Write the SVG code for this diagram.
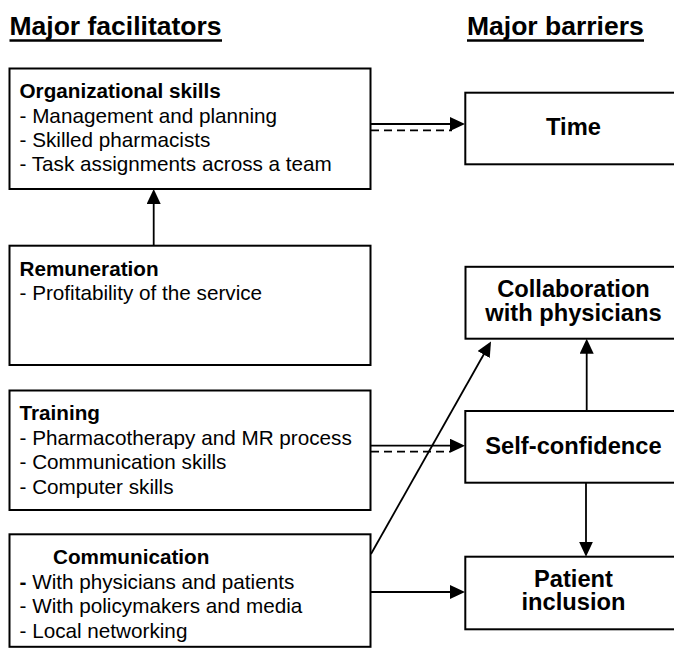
<svg xmlns="http://www.w3.org/2000/svg" width="674" height="648" viewBox="0 0 674 648">
<defs>
<style>
text{font-family:"Liberation Sans",Arial,Helvetica,sans-serif;fill:#000}
.title{font-size:26.5px;font-weight:bold}
.body{font-size:20.7px}
.hd{font-weight:bold}
.big{font-size:23.7px;font-weight:bold;text-anchor:middle}
.box{fill:#fff;stroke:#000;stroke-width:2}
.ln{stroke:#000;stroke-width:1.8;fill:none}
.dash{stroke:#000;stroke-width:1.8;fill:none;stroke-dasharray:8 5}
.ul{stroke:#000;stroke-width:2.4}
</style>
<marker id="ah" markerUnits="userSpaceOnUse" markerWidth="15" markerHeight="14" refX="5" refY="7" orient="auto">
<path d="M0,0 L15,7 L0,14 z" fill="#000"/>
</marker>
</defs>
<rect width="674" height="648" fill="#fff"/>
<g id="titles">
<text class="title" x="9.5" y="35">Major facilitators</text>
<line class="ul" x1="9.5" y1="40.5" x2="222" y2="40.5"/>
<text class="title" x="467" y="35">Major barriers</text>
<line class="ul" x1="467" y1="40.5" x2="644" y2="40.5"/>
</g>
<g id="connectors">
<line class="ln" x1="371" y1="124" x2="455" y2="124" marker-end="url(#ah)"/>
<line class="dash" x1="371" y1="130.3" x2="452" y2="130.3"/>
<line class="ln" x1="153.7" y1="245.7" x2="153.7" y2="199" marker-end="url(#ah)"/>
<line class="ln" x1="371" y1="445.7" x2="455" y2="445.7" marker-end="url(#ah)"/>
<line class="dash" x1="371" y1="451.7" x2="450" y2="451.7"/>
<line class="ln" x1="586.7" y1="411" x2="586.7" y2="348.7" marker-end="url(#ah)"/>
<line class="ln" x1="586" y1="482.7" x2="586" y2="546.7" marker-end="url(#ah)"/>
<line class="ln" x1="371" y1="592" x2="455" y2="592" marker-end="url(#ah)"/>
<line class="ln" x1="371" y1="554" x2="486.1" y2="350.2" marker-end="url(#ah)"/>
</g>
<g id="organizational">
<rect class="box" x="9.5" y="68.5" width="361" height="120.5"/>
<text class="body" x="19.5" y="98"><tspan class="hd">Organizational skills</tspan><tspan x="19.5" y="122.5">- Management and planning</tspan><tspan x="19.5" y="146.5">- Skilled pharmacists</tspan><tspan x="19.5" y="170.5">- Task assignments across a team</tspan></text>
</g>
<g id="remuneration">
<rect class="box" x="9.5" y="245.7" width="361" height="119.3"/>
<text class="body" x="19.5" y="276"><tspan class="hd">Remuneration</tspan><tspan x="19.5" y="299.5">- Profitability of the service</tspan></text>
</g>
<g id="training">
<rect class="box" x="9.5" y="390.5" width="361" height="119.5"/>
<text class="body" x="19.5" y="420"><tspan class="hd">Training</tspan><tspan x="19.5" y="444.5">- Pharmacotherapy and MR process</tspan><tspan x="19.5" y="469">- Communication skills</tspan><tspan x="19.5" y="493.5">- Computer skills</tspan></text>
</g>
<g id="communication">
<rect class="box" x="9.5" y="534.3" width="361" height="112.5"/>
<text class="body" x="53" y="564"><tspan class="hd">Communication</tspan><tspan x="19.5" y="588.5" class="hd">-</tspan><tspan> With physicians and patients</tspan><tspan x="19.5" y="613">- With policymakers and media</tspan><tspan x="19.5" y="637.5">- Local networking</tspan></text>
</g>
<g id="time">
<rect class="box" x="465.3" y="92.7" width="216" height="71.6"/>
<text class="big" x="573.5" y="135">Time</text>
</g>
<g id="collaboration">
<rect class="box" x="465.5" y="266.8" width="216" height="71.9"/>
<text class="big" x="573.5" y="297">Collaboration<tspan x="573.5" y="320.5">with physicians</tspan></text>
</g>
<g id="self-confidence">
<rect class="box" x="465.3" y="411" width="216" height="71.7"/>
<text class="big" x="573.5" y="454">Self-confidence</text>
</g>
<g id="patient-inclusion">
<rect class="box" x="465.3" y="556.7" width="216" height="72.6"/>
<text class="big" x="573.5" y="586.7">Patient<tspan x="573.5" y="610.3">inclusion</tspan></text>
</g>
</svg>
